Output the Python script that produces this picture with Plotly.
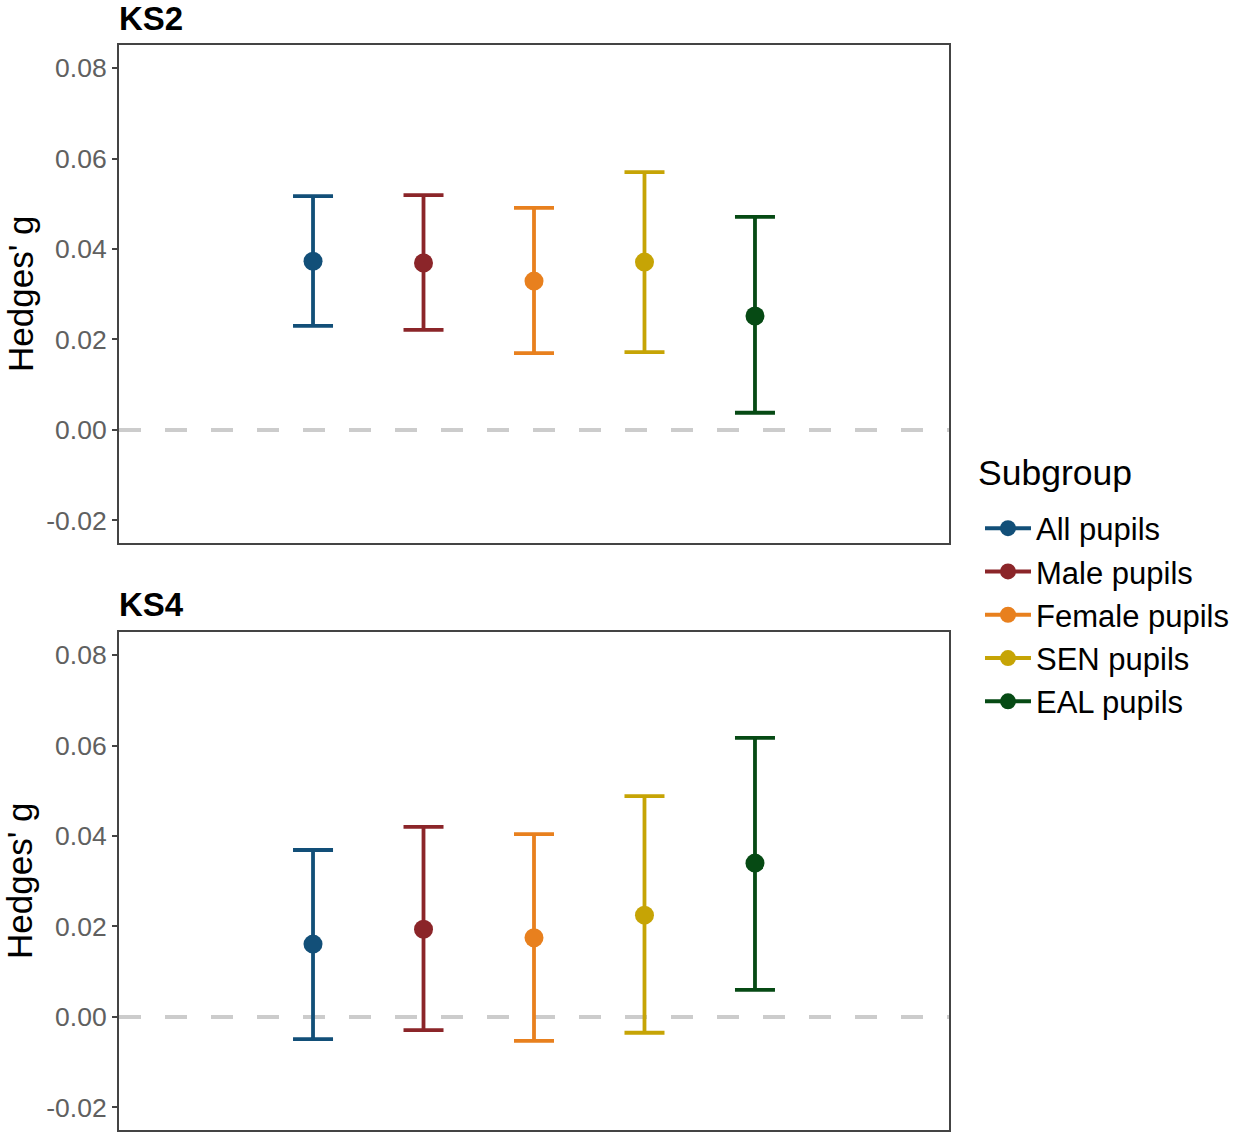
import plotly.graph_objects as go
from plotly.subplots import make_subplots

# Subgroups and their colours
subgroups = ["All pupils", "Male pupils", "Female pupils", "SEN pupils", "EAL pupils"]
colors = ["#124f78", "#8b2529", "#e8801e", "#c6a405", "#064a14"]

# Effect sizes (Hedges' g) with 95% confidence bounds
ks2_g = [0.0373, 0.0369, 0.0329, 0.0371, 0.0252]
ks2_lo = [0.0230, 0.0221, 0.0170, 0.0172, 0.0038]
ks2_hi = [0.0517, 0.0519, 0.0491, 0.0570, 0.0471]

ks4_g = [0.0161, 0.0194, 0.0175, 0.0225, 0.0340]
ks4_lo = [-0.0049, -0.0029, -0.0053, -0.0035, 0.0060]
ks4_hi = [0.0369, 0.0420, 0.0404, 0.0488, 0.0617]

panels = ["KS2", "KS4"]
tick_vals = [-0.02, 0.00, 0.02, 0.04, 0.06, 0.08]
tick_text = ["-0.02", "0.00", "0.02", "0.04", "0.06", "0.08"]

FONT = "Liberation Sans, Arial, sans-serif"

fig = make_subplots(rows=2, cols=1, vertical_spacing=0.082)

data = [(ks2_g, ks2_lo, ks2_hi), (ks4_g, ks4_lo, ks4_hi)]
for row, (g, lo, hi) in enumerate(data, start=1):
    for i, name in enumerate(subgroups):
        fig.add_trace(
            go.Scatter(
                x=[name], y=[g[i]],
                mode="markers",
                marker=dict(color=colors[i], size=19),
                error_y=dict(
                    type="data", symmetric=False,
                    array=[hi[i] - g[i]], arrayminus=[g[i] - lo[i]],
                    color=colors[i], thickness=3.8, width=20,
                ),
                showlegend=False,
                hoverinfo="skip",
            ),
            row=row, col=1,
        )
    # reference line at zero
    suffix = "" if row == 1 else str(row)
    fig.add_shape(
        type="line", xref=f"x{suffix} domain", yref=f"y{suffix}",
        x0=0, x1=1, y0=0, y1=0, layer="below",
        line=dict(color="#cccccc", width=4, dash="22px,24px"),
    )

# legend entries (point + line key)
for i, name in enumerate(subgroups):
    fig.add_trace(
        go.Scatter(
            x=[None], y=[None], mode="lines+markers", name=name,
            line=dict(color=colors[i], width=4),
            marker=dict(color=colors[i], size=19),
            showlegend=True,
        ),
        row=1, col=1,
    )

for row in (1, 2):
    fig.update_xaxes(
        type="category", categoryorder="array", categoryarray=subgroups,
        range=[-1.756, 5.756], showticklabels=False, ticks="",
        showline=True, mirror=True, linecolor="#444444", linewidth=2,
        showgrid=False, zeroline=False, fixedrange=True,
        row=row, col=1,
    )
    fig.update_yaxes(
        range=[-0.025, 0.0851], tickvals=tick_vals, ticktext=tick_text,
        ticks="outside", ticklen=5, tickwidth=2, tickcolor="#444444",
        tickfont=dict(family=FONT, size=26.5, color="#606060"),
        showline=True, mirror=True, linecolor="#444444", linewidth=2,
        showgrid=False, zeroline=False,
        row=row, col=1,
    )

# panel titles and y-axis titles
for name, ydom in zip(panels, [fig.layout.yaxis.domain, fig.layout.yaxis2.domain]):
    fig.add_annotation(
        text=f"<b>{name}</b>", xref="paper", yref="paper",
        x=0, y=ydom[1], xanchor="left", yanchor="middle", yshift=27, xshift=-2,
        showarrow=False, font=dict(family=FONT, size=33, color="#000000"),
    )
    fig.add_annotation(
        text="Hedges' g", xref="paper", yref="paper",
        x=0, y=(ydom[0] + ydom[1]) / 2, xanchor="center", yanchor="middle",
        xshift=-99, textangle=-90,
        showarrow=False, font=dict(family=FONT, size=35, color="#000000"),
    )

# legend heading
fig.add_annotation(
    text="Subgroup", xref="paper", yref="paper",
    x=1, y=1, xanchor="left", yanchor="middle",
    xshift=976 - 949, yshift=-(473 - 45),
    showarrow=False, font=dict(family=FONT, size=35.5, color="#000000"),
)

fig.update_layout(
    width=1241, height=1133,
    margin=dict(l=119, r=292, t=45, b=3, autoexpand=False),
    paper_bgcolor="white", plot_bgcolor="white",
    font=dict(family=FONT),
    legend=dict(
        font=dict(family=FONT, size=31, color="#000000"),
        x=(980 - 119) / 830, y=(1130 - 615) / 1085, xanchor="left", yanchor="middle",
        itemwidth=46, tracegroupgap=0,
        bgcolor="rgba(0,0,0,0)",
    ),
)

fig.write_html("out.html")
